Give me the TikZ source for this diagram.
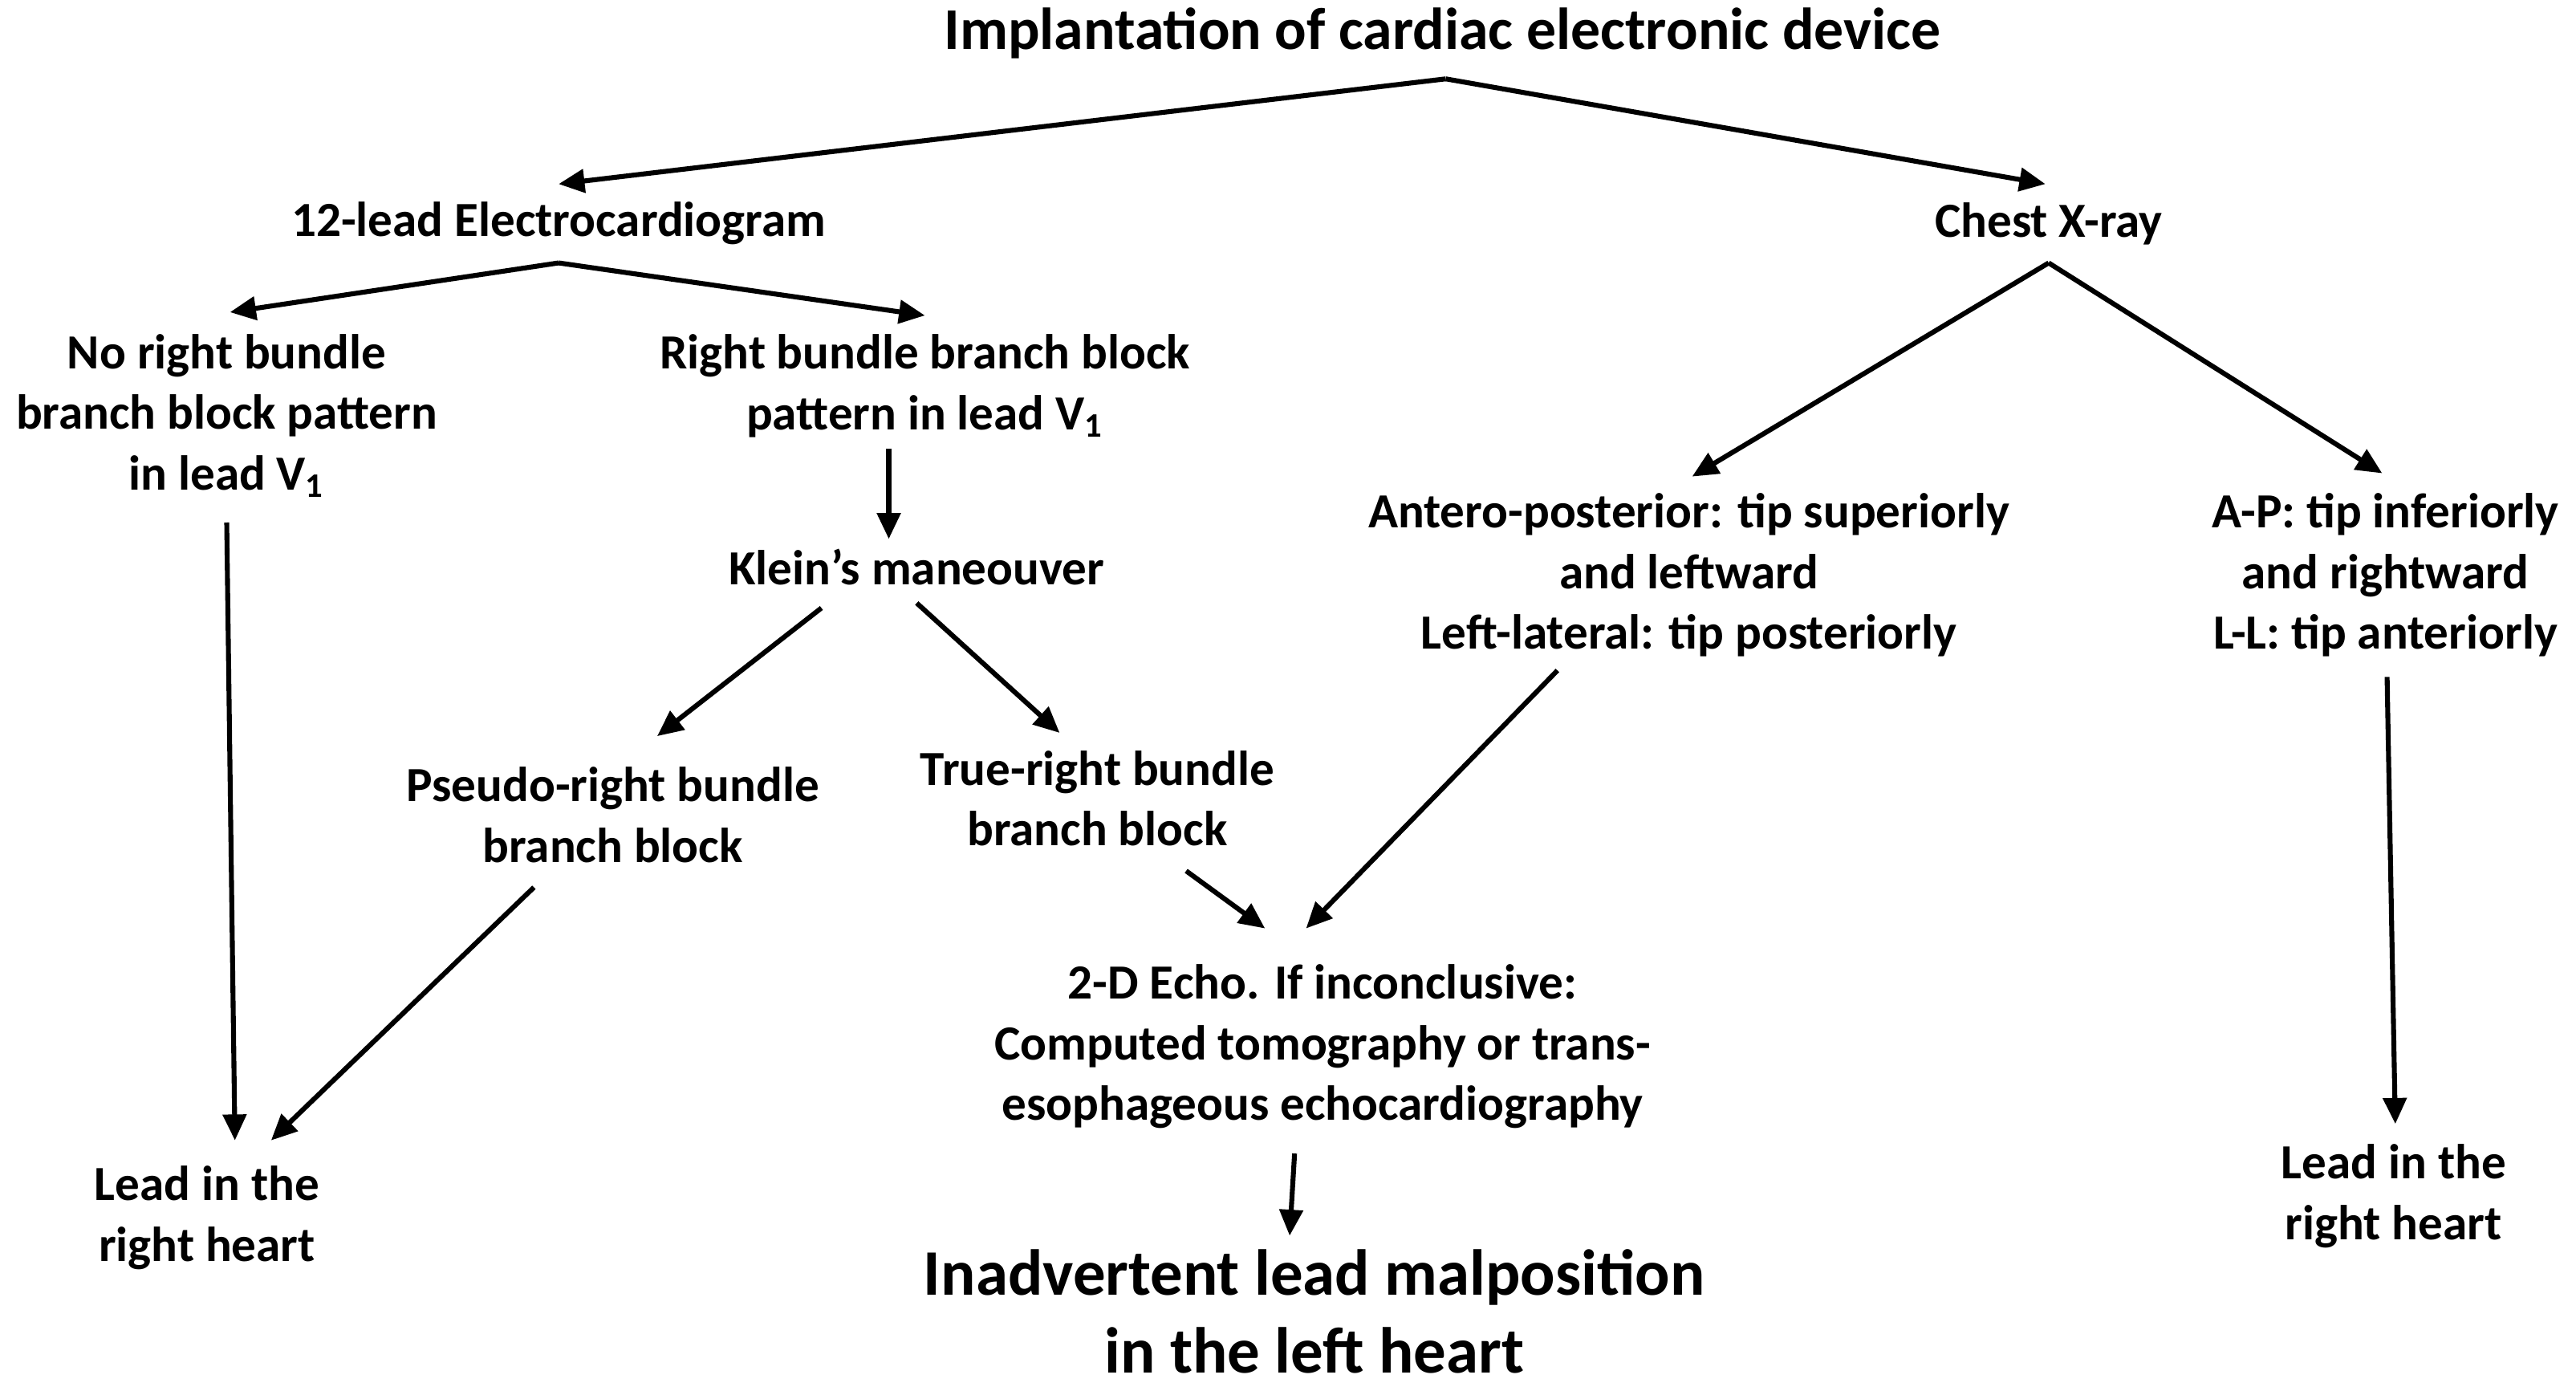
\documentclass[tikz,border=0pt]{standalone}
\usepackage{fontspec}
\setmainfont{Carlito}
\usetikzlibrary{arrows.meta}
\begin{document}
\begin{tikzpicture}[x=0.02cm,y=-0.02cm,
 t/.style={font=\bfseries\fontsize{17}{21}\selectfont,align=center,inner sep=0pt},
 a/.style={line width=1.7pt,-{Triangle[length=9pt,width=8pt]}}]
\useasboundingbox (0,0) rectangle (1568,844);
\node[t,font=\bfseries\fontsize{20.5}{24}\selectfont] (title) at (878,20) {Implantation of cardiac electronic device};
\node[t] (ecg) at (340,136) {12-lead Electrocardiogram};
\node[t] (cxr) at (1247,136) {Chest X-ray};
\node[t] (noR) at (138,253) {No right bundle\\branch block pattern\\in lead V\textsubscript{1}};
\node[t] (rbbb) at (563,235) {Right bundle branch block\\pattern in lead V\textsubscript{1}};
\node[t] (klein) at (558,345) {Klein’s maneouver};
\node[t] (pseudo) at (373,496) {Pseudo-right bundle\\branch block};
\node[t] (true) at (668,486) {True-right bundle\\branch block};
\node[t] (ap) at (1028,350) {Antero-posterior: tip superiorly\\and leftward\\Left-lateral: tip posteriorly};
\node[t] (apr) at (1452,350) {A-P: tip inferiorly\\and rightward\\L-L: tip anteriorly};
\node[t] (echo) at (805,637) {2-D Echo. If inconclusive:\\Computed tomography or trans-\\esophageous echocardiography};
\node[t] (leadL) at (126,741) {Lead in the\\right heart};
\node[t] (leadR) at (1457,728) {Lead in the\\right heart};
\node[t,font=\bfseries\fontsize{22.5}{27}\selectfont] (inad) at (800,798) {Inadvertent lead malposition\\in the left heart};
\coordinate (t0) at (880,48);
\coordinate (t1) at (340,112); \coordinate (t2) at (1245,112);
\coordinate (e0) at (340,160); \coordinate (e1) at (140,190); \coordinate (e2) at (563,192);
\coordinate (c0) at (1247,160); \coordinate (c1) at (1030,290); \coordinate (c2) at (1450,288);
\coordinate (r0) at (541,273); \coordinate (r1) at (541,328);
\coordinate (k1) at (500,370); \coordinate (k2) at (400,448);
\coordinate (k3) at (558,367); \coordinate (k4) at (645,446);
\coordinate (p0) at (325,540); \coordinate (p1) at (165,694);
\coordinate (n0) at (138,318); \coordinate (n1) at (143,694);
\coordinate (q0) at (722,530); \coordinate (q1) at (770,565);
\coordinate (a0) at (948,408); \coordinate (a1) at (795,565);
\coordinate (h0) at (788,702); \coordinate (h1) at (785,752);
\coordinate (b0) at (1453,412); \coordinate (b1) at (1458,684);
\draw[a] (t0)--(t1); \draw[a] (t0)--(t2);
\draw[a] (e0)--(e1); \draw[a] (e0)--(e2);
\draw[a] (c0)--(c1); \draw[a] (c0)--(c2);
\draw[a] (r0)--(r1);
\draw[a] (k1)--(k2); \draw[a] (k3)--(k4);
\draw[a] (p0)--(p1); \draw[a] (n0)--(n1);
\draw[a] (q0)--(q1); \draw[a] (a0)--(a1);
\draw[a] (h0)--(h1); \draw[a] (b0)--(b1);
\end{tikzpicture}
\end{document}
